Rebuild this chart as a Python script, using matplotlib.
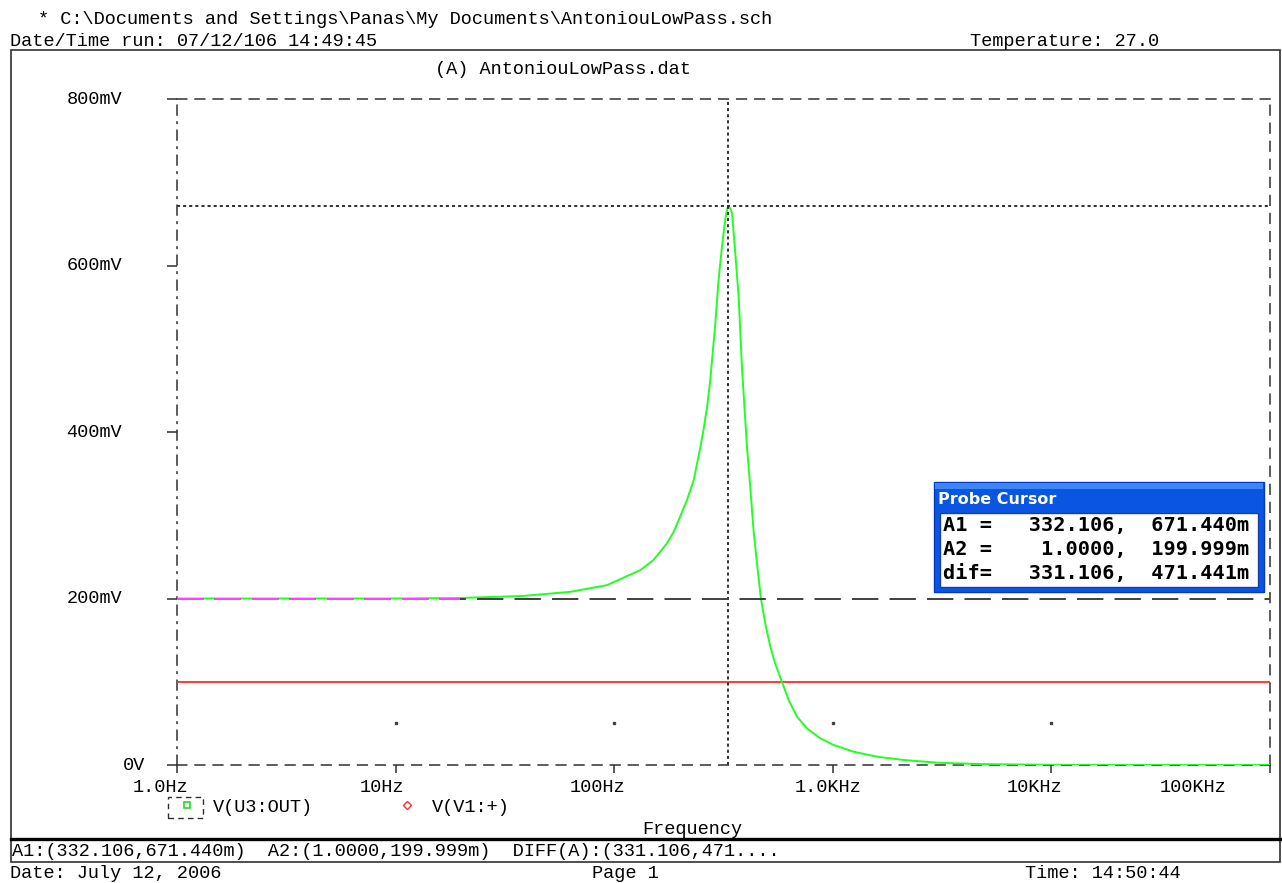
import matplotlib
matplotlib.use("Agg")
import matplotlib.pyplot as plt
from matplotlib.patches import Rectangle
from matplotlib.lines import Line2D
import matplotlib.transforms as mtrans

# ---------------- data ----------------
freq_hz = [1, 10, 19.7, 38, 63, 92.6, 131.5, 151, 174, 187, 200, 215, 231, 248,
           256, 266, 275, 290, 300, 311, 322, 327, 332.106, 339, 346, 358, 371,
           384, 405, 419, 434, 450, 469, 491, 518, 545, 585, 628, 686, 762, 877,
           1009, 1245, 1592, 2110, 3000, 4570, 10000, 100000]
v_out_mv = [200, 200, 200.6, 203, 208, 216, 234, 246, 266, 280, 298, 318, 342, 382,
            402, 430, 462, 530, 582, 622, 655, 665, 671.44, 669, 663, 615, 562,
            478, 382, 334, 282, 242, 200, 170, 142, 122, 100, 78, 58, 44, 32,
            24, 16, 10, 6, 2.8, 1.2, 0.2, 0]
v_in_freq = [1, 100000]
v_in_mv = [100, 100]

cursor_a1 = (332.106, 671.440)
cursor_a2 = (1.0, 199.999)
magenta_end_hz = 19.7

x_ticks = [1, 10, 100, 1000, 10000, 100000]
x_tick_labels = ["1.0Hz", "10Hz", "100Hz", "1.0KHz", "10KHz", "100KHz"]
y_ticks = [0, 200, 400, 600, 800]
y_tick_labels = ["0V", "200mV", "400mV", "600mV", "800mV"]
grid_dot_freq = [10, 100, 1000, 10000]
grid_dot_mv = 50

# ---------------- layout ----------------
W, H = 1282, 883
plt.rcParams['lines.scale_dashes'] = False
fig = plt.figure(figsize=(W / 100, H / 100), dpi=100)
fig.patch.set_facecolor("white")

MONO = "Liberation Mono"
FS = 13.4
DARK = "#303030"

def fx(x):
    return x / W

def fy(y):
    return 1 - y / H

def rect(x0, y0, x1, y1, **kw):
    fig.add_artist(Rectangle((fx(x0), fy(y1)), (x1 - x0) / W, (y1 - y0) / H,
                             transform=fig.transFigure, **kw))

def ftext(x, y, s, **kw):
    kw.setdefault("family", MONO)
    kw.setdefault("fontsize", FS)
    kw.setdefault("color", "black")
    fig.text(fx(x), fy(y), s, va="center", **kw)

# outer frame and status bar
rect(11, 50, 1280, 839, fill=False, edgecolor=DARK, linewidth=1.2)
rect(11, 839, 1280, 862, fill=False, edgecolor=DARK, linewidth=1.2)
fig.add_artist(Line2D([fx(11), fx(1280)], [fy(839), fy(839)], transform=fig.transFigure,
                      color="black", linewidth=2.4))

# header / footer texts
ftext(38, 19, "* C:\\Documents and Settings\\Panas\\My Documents\\AntoniouLowPass.sch")
ftext(10, 41, "Date/Time run: 07/12/106 14:49:45")
ftext(970, 41, "Temperature: 27.0")
ftext(563, 69, "(A) AntoniouLowPass.dat", ha="center")
ftext(692, 830, "Frequency", ha="center")
ftext(12, 852, "A1:(332.106,671.440m)  A2:(1.0000,199.999m)  DIFF(A):(331.106,471....")
ftext(10, 874, "Date: July 12, 2006")
ftext(592, 874, "Page 1")
ftext(1025, 874, "Time: 14:50:44")

# ---------------- axes ----------------
ax = fig.add_axes([fx(177), fy(765), (1270 - 177) / W, (765 - 99) / H])
ax.set_xscale("log")
ax.set_xlim(1, 1e5)
ax.set_ylim(0, 800)
ax.set_facecolor("white")

border_dash = (0, (7.0, 6.0))
for side in ["top", "bottom", "right"]:
    ax.spines[side].set_linestyle(border_dash)
    ax.spines[side].set_color(DARK)
    ax.spines[side].set_linewidth(1.1)
ax.spines["left"].set_linestyle((0, (7.0, 5.0, 1.0, 5.0)))
ax.spines["left"].set_color(DARK)
ax.spines["left"].set_linewidth(1.1)

ax.set_xticks(x_ticks)
ax.set_xticklabels([""] * len(x_ticks))
ax.xaxis.set_minor_locator(matplotlib.ticker.NullLocator())
ax.set_yticks(y_ticks)
ax.set_yticklabels([""] * len(y_ticks))
ax.tick_params(axis="x", direction="out", length=6, width=1.1, color=DARK)
ax.tick_params(axis="y", direction="out", length=7, width=1.1, color=DARK)

# tick labels (PSpice-like placement)
x_label_dx = [-16, -14, -17, -5, -17, -77]
for f, lab, dx in zip(x_ticks, x_tick_labels, x_label_dx):
    tr = mtrans.offset_copy(mtrans.blended_transform_factory(ax.transData, ax.transAxes),
                            fig=fig, x=dx, y=-23, units="dots")
    ax.text(f, 0, lab, transform=tr, ha="center", va="center",
            family=MONO, fontsize=FS, clip_on=False)
y_label_dx = [-32, -55, -55, -55, -55]
for v, lab, dx in zip(y_ticks, y_tick_labels, y_label_dx):
    tr = mtrans.offset_copy(mtrans.blended_transform_factory(ax.transAxes, ax.transData),
                            fig=fig, x=dx, y=0, units="dots")
    ax.text(0, v, lab, transform=tr, ha="right", va="center",
            family=MONO, fontsize=FS, clip_on=False)

# grid dots
ax.plot(grid_dot_freq, [grid_dot_mv] * len(grid_dot_freq), linestyle="none",
        marker="s", markersize=1.6, color="#404040")

# traces
ax.plot(v_in_freq, v_in_mv, color="#ff2a2a", linewidth=1.3, zorder=3)
ax.plot(freq_hz, v_out_mv, color="#22ff22", linewidth=1.4, zorder=4)

# cursors
ax.axvline(cursor_a1[0], color=DARK, linestyle=(0, (2.2, 2.2)), linewidth=1.4, zorder=5)
ax.axhline(cursor_a1[1], color=DARK, linestyle=(0, (2.2, 2.2)), linewidth=1.4, zorder=5)
ax.plot([1, 1e5], [cursor_a2[1]] * 2, color="#404040", linestyle=(0, (19, 8)),
        linewidth=1.4, zorder=5)
ax.plot([1, magenta_end_hz], [cursor_a2[1]] * 2, color="#ff44ff", linestyle=(0, (19, 8)),
        linewidth=1.4, zorder=6)

# ---------------- legend ----------------
rect(168, 797, 203, 818, fill=False, edgecolor=DARK, linewidth=1.0, linestyle=(0, (4, 3)))
fig.add_artist(Line2D([fx(187)], [fy(805)], transform=fig.transFigure, marker="s",
                      markersize=5, markerfacecolor="white", markeredgecolor="#22dd22",
                      markeredgewidth=1.2, linestyle="none"))
ftext(213, 808, "V(U3:OUT)")
fig.add_artist(Line2D([fx(407)], [fy(805)], transform=fig.transFigure, marker="D",
                      markersize=4.5, markerfacecolor="white", markeredgecolor="#ff3030",
                      markeredgewidth=1.0, linestyle="none"))
ftext(432, 808, "V(V1:+)")

# ---------------- probe cursor window ----------------
rect(934, 482, 1264, 592, facecolor="#0a55e2", edgecolor="#0038c8", linewidth=1.0)
rect(935, 483, 1263, 489, facecolor="#3d86f6", edgecolor="none")
rect(940, 513, 1258, 587, facecolor="white", edgecolor="#1a3fa0", linewidth=1.0)
ftext(938, 500, "Probe Cursor", family="DejaVu Sans", fontsize=11.5, fontweight="bold",
      color="white")
rows = ["A1 =   332.106,  671.440m",
        "A2 =    1.0000,  199.999m",
        "dif=   331.106,  471.441m"]
for i, r in enumerate(rows):
    ftext(943, 525 + 24 * i, r, family="DejaVu Sans Mono", fontsize=14.6,
          fontweight="bold")

fig.savefig("out.png", dpi=100, facecolor="white")
